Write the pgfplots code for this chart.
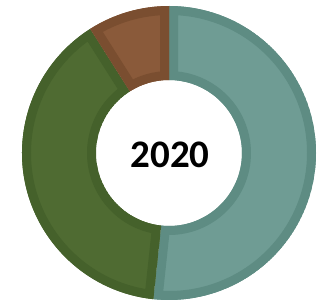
\documentclass[border=0pt]{standalone}
\usepackage{pgfplots}
\pgfplotsset{compat=1.18}
\usepackage{pgfplotstable}
\usepackage{fontspec}
\setmainfont{Carlito}
\definecolor{tealF}{HTML}{6F9C94}
\definecolor{tealB}{HTML}{5E8C83}
\definecolor{greenF}{HTML}{4F6B32}
\definecolor{greenB}{HTML}{45612B}
\definecolor{brownF}{HTML}{8A5A3A}
\definecolor{brownB}{HTML}{7A4E30}
\pgfplotstableread{
name pct
A 51.7
B 39.3
C 9.0
}\donutdata
\newcommand{\slicepath}[2]{([shift={(#1:147pt)}]c) arc[start angle=#1,end angle=#2,radius=147pt] -- ([shift={(#2:73pt)}]c) arc[start angle=#2,end angle=#1,radius=73pt] -- cycle}
\newcommand{\slice}[4]{%
  \begin{scope}
  \clip \slicepath{#1}{#2};
  \fill[#3] \slicepath{#1}{#2};
  \draw[#4, line width=18pt] \slicepath{#1}{#2};
  \end{scope}}
\begin{document}
\begin{tikzpicture}
\pgfplotstablegetelem{0}{pct}\of\donutdata \let\pa\pgfplotsretval
\pgfplotstablegetelem{1}{pct}\of\donutdata \let\pb\pgfplotsretval
\pgfplotstablegetelem{2}{pct}\of\donutdata \let\pc\pgfplotsretval
\pgfmathsetmacro{\aA}{90}
\pgfmathsetmacro{\aB}{90-3.6*\pa}
\pgfmathsetmacro{\aC}{\aB-3.6*\pb}
\pgfmathsetmacro{\aD}{\aC-3.6*\pc}
\begin{axis}[scale only axis, width=321pt, height=301pt,
  xmin=0, xmax=321, ymin=0, ymax=301, hide axis, clip=false]
\pgfplotsextra{
  \path (axis cs:0,0) rectangle (axis cs:321,301);
  \coordinate (c) at (axis cs:169,148);
  \slice{\aA}{\aB}{tealF}{tealB}
  \slice{\aB}{\aC}{greenF}{greenB}
  \slice{\aC}{\aD}{brownF}{brownB}
  \node[font=\fontsize{39}{40}\selectfont\bfseries] at (axis cs:170,146) {2020};
}
\end{axis}
\end{tikzpicture}
\end{document}
